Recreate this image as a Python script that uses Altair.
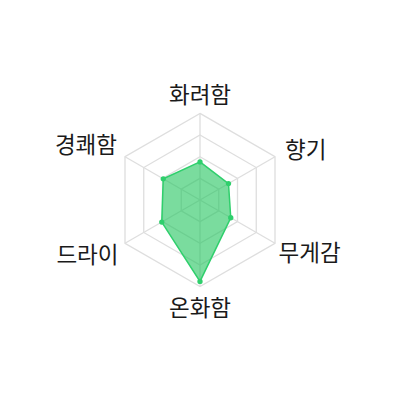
import altair as alt
import numpy as np
import pandas as pd

# ---- data ----
CATEGORIES = ["화려함", "향기", "무게감", "온화함", "드라이", "경쾌함"]
VALUES = [44, 38, 41, 94, 51, 49]
GRID_LEVELS = [25, 50, 75, 100]
MAX_VALUE = 100

# ---- style ----
W = H = 370
CX = CY = 192           # pixel position of the centre inside the plot area
PX_PER_UNIT = 0.866     # pixels per value unit
LABEL_R = 110
LABEL_ALIGN = ["center", "left", "left", "center", "right", "right"]
LABEL_DX = [0, 2.5, -4, 0, 1, -0.5]
LABEL_DY = [-9, -1.5, 6.5, 14, 8.5, -6.5]
FONT = "Noto Sans CJK KR"
FONT_SIZE = 22.5
GRID_COLOR = "#dedede"
FILL = "#22c55e"
STROKE = "#2fcf6c"

n = len(CATEGORIES)
angles = np.pi / 2 - 2 * np.pi * np.arange(n) / n

xdom = [-CX / PX_PER_UNIT, (W - CX) / PX_PER_UNIT]
ydom = [-(H - CY) / PX_PER_UNIT, CY / PX_PER_UNIT]
xs = alt.Scale(domain=xdom, nice=False, zero=False)
ys = alt.Scale(domain=ydom, nice=False, zero=False)
noax = None

# grid hexagons
grid_rows = []
for lv in GRID_LEVELS:
    for i, a in enumerate(angles):
        grid_rows.append({"level": lv, "i": i, "x": lv * np.cos(a), "y": lv * np.sin(a)})
grid_df = pd.DataFrame(grid_rows)

# spokes
spoke_df = pd.DataFrame({
    "x": np.zeros(n), "y": np.zeros(n),
    "x2": MAX_VALUE * np.cos(angles), "y2": MAX_VALUE * np.sin(angles),
})

# data polygon
data_df = pd.DataFrame({
    "cat": CATEGORIES, "value": VALUES, "i": np.arange(n),
    "x": np.array(VALUES) * np.cos(angles), "y": np.array(VALUES) * np.sin(angles),
})

# labels
label_df = pd.DataFrame({
    "cat": CATEGORIES, "i": np.arange(n),
    "x": LABEL_R * np.cos(angles), "y": LABEL_R * np.sin(angles),
})

grid = alt.Chart(grid_df).mark_line(
    interpolate="linear-closed", stroke=GRID_COLOR, strokeWidth=1.3
).encode(
    x=alt.X("x:Q", scale=xs, axis=noax),
    y=alt.Y("y:Q", scale=ys, axis=noax),
    detail="level:N",
    order="i:Q",
)

spokes = alt.Chart(spoke_df).mark_rule(stroke=GRID_COLOR, strokeWidth=1.3).encode(
    x=alt.X("x:Q", scale=xs, axis=noax),
    y=alt.Y("y:Q", scale=ys, axis=noax),
    x2="x2:Q", y2="y2:Q",
)

poly = alt.Chart(data_df).mark_line(
    interpolate="linear-closed", fill=FILL, fillOpacity=0.6,
    stroke=STROKE, strokeWidth=1.5,
).encode(
    x=alt.X("x:Q", scale=xs, axis=noax),
    y=alt.Y("y:Q", scale=ys, axis=noax),
    order="i:Q",
)

pts = alt.Chart(data_df).mark_circle(size=28, color=STROKE, opacity=1).encode(
    x=alt.X("x:Q", scale=xs, axis=noax),
    y=alt.Y("y:Q", scale=ys, axis=noax),
)

label_layers = []
for i in range(n):
    label_layers.append(
        alt.Chart(label_df).transform_filter(alt.datum.i == i).mark_text(
            font=FONT, fontSize=FONT_SIZE, color="#1a1a1a",
            align=LABEL_ALIGN[i], baseline="middle",
            dx=LABEL_DX[i], dy=LABEL_DY[i],
        ).encode(
            x=alt.X("x:Q", scale=xs, axis=noax),
            y=alt.Y("y:Q", scale=ys, axis=noax),
            text="cat:N",
        )
    )

chart = alt.layer(grid, spokes, poly, pts, *label_layers).properties(
    width=W, height=H, padding=0,
).configure_view(stroke=None)

chart.save("out.html", embed_options={"renderer": "svg", "actions": False})
